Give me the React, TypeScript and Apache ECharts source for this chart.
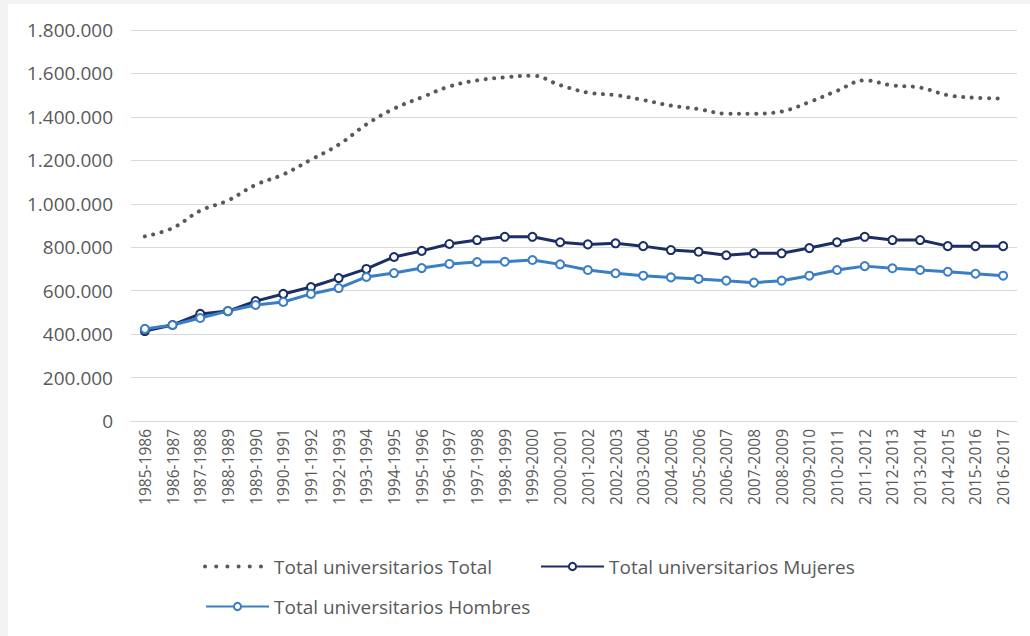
import React, { useEffect, useRef } from "react";
import * as echarts from "echarts";

const categories = [
  "1985-1986", "1986-1987", "1987-1988", "1988-1989", "1989-1990", "1990-1991",
  "1991-1992", "1992-1993", "1993-1994", "1994-1995", "1995-1996", "1996-1997",
  "1997-1998", "1998-1999", "1999-2000", "2000-2001", "2001-2002", "2002-2003",
  "2003-2004", "2004-2005", "2005-2006", "2006-2007", "2007-2008", "2008-2009",
  "2009-2010", "2010-2011", "2011-2012", "2012-2013", "2013-2014", "2014-2015",
  "2015-2016", "2016-2017",
];

const totalValues = [
  850000, 888000, 968000, 1015000, 1087000, 1135000, 1203000, 1272000,
  1365000, 1438000, 1490000, 1540000, 1568000, 1582000, 1590000, 1546000,
  1512000, 1500000, 1478000, 1452000, 1436000, 1415000, 1415000, 1425000,
  1468000, 1520000, 1568000, 1545000, 1535000, 1500000, 1488000, 1485000,
];

const mujeresValues = [
  414000, 442000, 493000, 506000, 552000, 585000, 617000, 658000,
  700000, 755000, 783000, 815000, 833000, 848000, 848000, 823000,
  813000, 818000, 805000, 787000, 779000, 763000, 772000, 772000,
  796000, 823000, 848000, 833000, 833000, 805000, 805000, 805000,
];

const hombresValues = [
  424000, 442000, 474000, 506000, 534000, 548000, 585000, 612000,
  663000, 681000, 704000, 723000, 732000, 733000, 741000, 721000,
  695000, 680000, 669000, 661000, 654000, 646000, 637000, 646000,
  669000, 695000, 713000, 703000, 695000, 687000, 678000, 669000,
];

const yTicks = { min: 0, max: 1800000, interval: 200000 };

const seriesNames = [
  "Total universitarios Total",
  "Total universitarios Mujeres",
  "Total universitarios Hombres",
];

const FONT = "Open Sans";
const TEXT_COLOR = "#595959";

// Legend key for the dotted total line: a row of six round dots.
const DOTS_ICON =
  "path://" +
  [0, 11, 22, 33, 44, 55]
    .map((x) => `M${x},2a2,2 0 1,0 4,0a2,2 0 1,0 -4,0z`)
    .join("");

function formatThousands(v: number): string {
  return String(Math.round(v)).replace(/\B(?=(\d{3})+(?!\d))/g, ".");
}

export default function App() {
  const ref = useRef<HTMLDivElement>(null);

  useEffect(() => {
    if (!ref.current) return;
    const chart = echarts.init(ref.current, undefined, { renderer: "svg" });

    const legendText = { color: TEXT_COLOR, fontFamily: FONT, fontSize: 19 };

    chart.setOption({
      animation: false,
      backgroundColor: "#f3f3f3",
      graphic: [
        {
          type: "rect",
          z: -100,
          silent: true,
          shape: { x: 8, y: 4, width: 1030, height: 640 },
          style: { fill: "#ffffff" },
        },
      ],
      grid: { left: 131, right: 13, top: 30, bottom: 215 },
      legend: [
        {
          data: [{ name: seriesNames[0], icon: DOTS_ICON }],
          left: 198,
          top: 552,
          itemWidth: 60,
          itemHeight: 9,
          textStyle: { ...legendText, padding: [0, 0, 0, 6] },
        },
        {
          data: [seriesNames[1]],
          left: 535,
          top: 552,
          itemWidth: 63,
          itemHeight: 9,
          textStyle: legendText,
        },
        {
          data: [seriesNames[2]],
          left: 200,
          top: 592,
          itemWidth: 63,
          itemHeight: 9,
          textStyle: legendText,
        },
      ],
      xAxis: {
        type: "category",
        data: categories,
        boundaryGap: true,
        axisLine: { show: true, lineStyle: { color: "#d9d9d9", width: 1 } },
        axisTick: { show: false },
        axisLabel: {
          rotate: 90,
          interval: 0,
          margin: 8,
          color: TEXT_COLOR,
          fontFamily: FONT,
          fontSize: 15.5,
        },
      },
      yAxis: {
        type: "value",
        min: yTicks.min,
        max: yTicks.max,
        interval: yTicks.interval,
        axisLine: { show: false },
        axisTick: { show: false },
        splitLine: { lineStyle: { color: "#d9d9d9", width: 1 } },
        axisLabel: {
          margin: 18,
          color: TEXT_COLOR,
          fontFamily: FONT,
          fontSize: 19,
          formatter: (v: number) => formatThousands(v),
        },
      },
      series: [
        {
          name: seriesNames[0],
          type: "line",
          data: totalValues,
          smooth: 0.4,
          showSymbol: false,
          symbol: "none",
          itemStyle: { color: "#595959" },
          lineStyle: { color: "#595959", width: 4, type: [0.1, 8.5], cap: "round" },
        },
        {
          name: seriesNames[1],
          type: "line",
          data: mujeresValues,
          symbol: "emptyCircle",
          symbolSize: 8,
          itemStyle: { color: "#1b2f66", borderWidth: 2.5 },
          lineStyle: { color: "#1b2f66", width: 3 },
        },
        {
          name: seriesNames[2],
          type: "line",
          data: hombresValues,
          symbol: "emptyCircle",
          symbolSize: 8,
          itemStyle: { color: "#3a7ec6", borderWidth: 2.5 },
          lineStyle: { color: "#3a7ec6", width: 3 },
        },
      ],
    });

    return () => chart.dispose();
  }, []);

  return (
    <div
      ref={ref}
      style={{ position: "absolute", left: 0, top: 0, width: 1030, height: 636 }}
    />
  );
}
